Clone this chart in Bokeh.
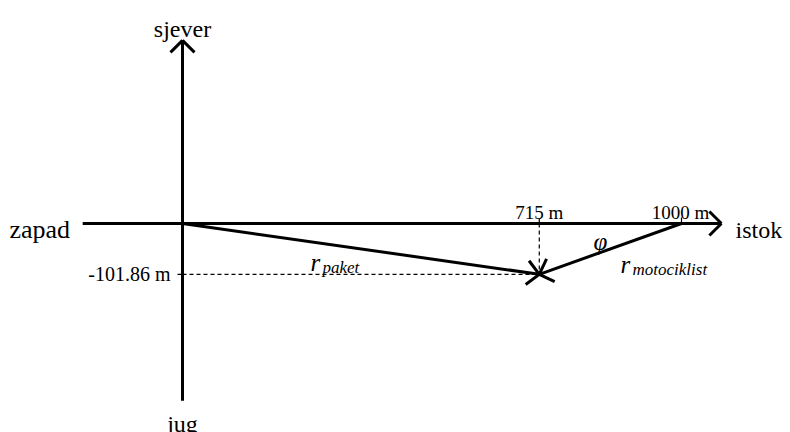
import math
from bokeh.plotting import figure
from bokeh.models import Range1d
from bokeh.core.properties import value
from bokeh.embed import file_html
from bokeh.resources import INLINE

# ---- data (metres) ----
paket_x = [715.0]
paket_y = [-101.86]
moto_x = [1000.0]
moto_y = [0.0]
ew_axis = [-200.0, 1080.0]     # west-east axis extent
sn_axis = [-355.0, 367.0]      # south-north axis extent
x_tick_labels = ["715 m", "1000 m"]
y_tick_labels = ["-101.86 m"]
dir_labels = ["sjever", "jug", "zapad", "istok"]

# ---- layout ----
W, H = 790, 432
S = 0.499            # px per metre (equal scale)
OX, OY = 182, 223    # origin position inside canvas (px)

def dx_(px):  # canvas px -> data x
    return (px - OX) / S

def dy_(py):  # canvas px -> data y
    return (OY - py) / S

p = figure(width=W, height=H, output_backend="svg", toolbar_location=None,
           x_range=Range1d(-OX / S, (W - OX) / S),
           y_range=Range1d(-(H - OY) / S, OY / S),
           min_border=0, background_fill_color="white", border_fill_color="white")
p.axis.visible = False
p.grid.visible = False
p.outline_line_color = None

def head(tx, ty, fx, fy, L=17):
    ddx = (tx - fx) * S
    ddy = (ty - fy) * S
    n = math.hypot(ddx, ddy)
    ux, uy = ddx / n, ddy / n
    x0s, y0s, x1s, y1s = [], [], [], []
    for a in (math.radians(135), math.radians(-135)):
        wx = ux * math.cos(a) - uy * math.sin(a)
        wy = ux * math.sin(a) + uy * math.cos(a)
        x0s.append(tx); y0s.append(ty)
        x1s.append(tx + wx * L / S); y1s.append(ty + wy * L / S)
    return x0s, y0s, x1s, y1s

LW = 3
# dashed helper lines
p.segment(x0=[0, paket_x[0]], y0=[paket_y[0], 0], x1=[paket_x[0], paket_x[0]],
          y1=[paket_y[0], paket_y[0]], line_color="black", line_width=1.2, line_dash="4 3")
# small ticks
p.segment(x0=[paket_x[0]], y0=[0], x1=[paket_x[0]], y1=[10], line_color="black", line_width=1.2)
p.segment(x0=[moto_x[0]], y0=[0], x1=[moto_x[0]], y1=[12], line_color="black", line_width=1.2)
p.segment(x0=[-10], y0=[paket_y[0]], x1=[0], y1=[paket_y[0]], line_color="black", line_width=1.2)

# axes
p.segment(x0=[ew_axis[0], 0], y0=[0, sn_axis[0]], x1=[ew_axis[1], 0], y1=[0, sn_axis[1]],
          line_color="black", line_width=LW)
for h in (head(ew_axis[1], 0, 0, 0), head(0, sn_axis[1], 0, 0)):
    p.segment(x0=h[0], y0=h[1], x1=h[2], y1=h[3], line_color="black", line_width=LW)

# vectors
p.segment(x0=[0, moto_x[0]], y0=[0, moto_y[0]], x1=[paket_x[0], paket_x[0]],
          y1=[paket_y[0], paket_y[0]], line_color="black", line_width=LW)
for h in (head(paket_x[0], paket_y[0], 0, 0), head(paket_x[0], paket_y[0], moto_x[0], moto_y[0])):
    p.segment(x0=h[0], y0=h[1], x1=h[2], y1=h[3], line_color="black", line_width=LW)

SERIF = value("Liberation Serif")
# direction labels
p.text(x=[0], y=[dy_(28)], text=[dir_labels[0]], text_font=SERIF,
       text_font_size="24px", text_align="center", text_baseline="alphabetic", text_color="black")
p.text(x=[0], y=[dy_(410)], text=[dir_labels[1]], text_font=SERIF,
       text_font_size="24px", text_align="center", text_baseline="top", text_color="black")
p.text(x=[dx_(9)], y=[dy_(229)], text=[dir_labels[2]], text_font=SERIF,
       text_font_size="26px", text_align="left", text_baseline="alphabetic", text_color="black")
p.text(x=[dx_(735)], y=[dy_(229)], text=[dir_labels[3]], text_font=SERIF,
       text_font_size="24px", text_align="left", text_baseline="alphabetic", text_color="black")
# tick labels
p.text(x=[paket_x[0], dx_(680)], y=[dy_(212), dy_(212)], text=x_tick_labels, text_font=SERIF,
       text_font_size="19px", text_align="center", text_baseline="alphabetic", text_color="black")
p.text(x=[dx_(170)], y=[paket_y[0]], text=y_tick_labels, text_font=SERIF,
       text_font_size="20px", text_align="right", text_baseline="middle", text_color="black")
# vector labels
p.text(x=[dx_(600)], y=[dy_(241)], text=["φ"], text_font=SERIF, text_font_style="italic",
       text_font_size="25px", text_align="center", text_baseline="alphabetic", text_color="black")
p.text(x=[dx_(310), dx_(620)], y=[dy_(262), dy_(264)], text=["r", "r"], text_font=SERIF,
       text_font_style="italic", text_font_size="25px", text_align="left",
       text_baseline="alphabetic", text_color="black")
p.text(x=[dx_(322), dx_(632)], y=[dy_(267), dy_(269)], text=["paket", "motociklist"], text_font=SERIF,
       text_font_style="italic", text_font_size="17px", text_align="left",
       text_baseline="alphabetic", text_color="black")

open("out.html", "w").write(file_html(p, INLINE))
